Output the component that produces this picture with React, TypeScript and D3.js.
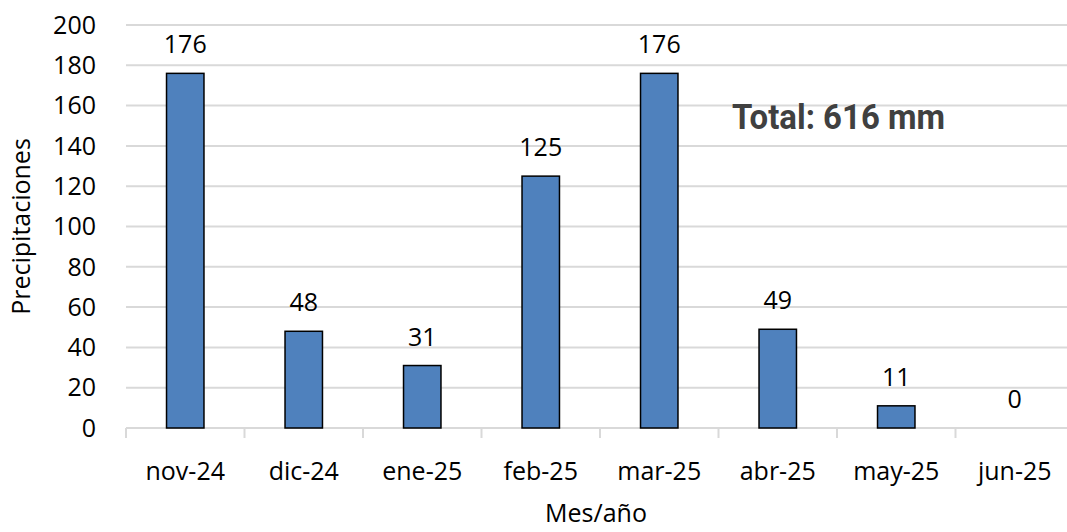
import React from 'react';
import * as d3 from 'd3';

const months = ['nov-24', 'dic-24', 'ene-25', 'feb-25', 'mar-25', 'abr-25', 'may-25', 'jun-25'];
const rainfall = [176, 48, 31, 125, 176, 49, 11, 0];
const yTicks = [0, 20, 40, 60, 80, 100, 120, 140, 160, 180, 200];

const W = 1067;
const H = 532;
const FONT = "'Open Sans', 'Liberation Sans', sans-serif";
const FS = 25;

export default function App() {
  // plot box, the band extends past the right edge like the original
  const x = d3.scaleBand<string>().domain(months).range([126, 1074]).paddingInner(0).paddingOuter(0);
  const y = d3.scaleLinear().domain([0, 200]).range([428, 25]);
  const barW = x.bandwidth() * 0.316;

  return (
    <svg width={W} height={H} style={{ position: 'absolute', left: 0, top: 0, background: '#fff' }}>
      {/* gridlines */}
      {yTicks.map((t) => (
        <line key={t} x1={126} x2={W} y1={y(t)} y2={y(t)} stroke="#d9d9d9" strokeWidth={2} />
      ))}
      {/* category ticks */}
      {months.map((m) => (
        <line key={m} x1={x(m)!} x2={x(m)!} y1={y(0)} y2={y(0) + 10} stroke="#d9d9d9" strokeWidth={2} />
      ))}
      {/* y tick labels */}
      {yTicks.map((t) => (
        <text key={t} x={96} y={y(t)} dy="0.35em" textAnchor="end" fontFamily={FONT} fontSize={FS} fill="#000">
          {t}
        </text>
      ))}
      {/* bars */}
      {months.map((m, i) => {
        const cx = x(m)! + x.bandwidth() / 2;
        return (
          <g key={m}>
            {rainfall[i] > 0 && (
              <rect x={cx - barW / 2} y={y(rainfall[i])} width={barW} height={y(0) - y(rainfall[i])}
                fill="#4f81bd" stroke="#000" strokeWidth={1.5} />
            )}
            <text x={cx} y={y(rainfall[i]) - 20} textAnchor="middle" fontFamily={FONT} fontSize={FS} fill="#000">
              {rainfall[i]}
            </text>
            <text x={cx} y={480} textAnchor="middle" fontFamily={FONT} fontSize={FS} fill="#000">
              {m}
            </text>
          </g>
        );
      })}
      {/* axis titles */}
      <text transform={`translate(30,${(y(0) + y(200)) / 2}) rotate(-90)`} textAnchor="middle"
        fontFamily={FONT} fontSize={FS} fill="#000">
        Precipitaciones
      </text>
      <text x={596} y={522} textAnchor="middle" fontFamily={FONT} fontSize={FS} fill="#000">
        Mes/año
      </text>
      <text x={732} y={129} fontFamily="Roboto, sans-serif" fontWeight={700} fontSize={35}
        fill="#404040" textLength={213} lengthAdjust="spacingAndGlyphs">
        Total: 616 mm
      </text>
    </svg>
  );
}
